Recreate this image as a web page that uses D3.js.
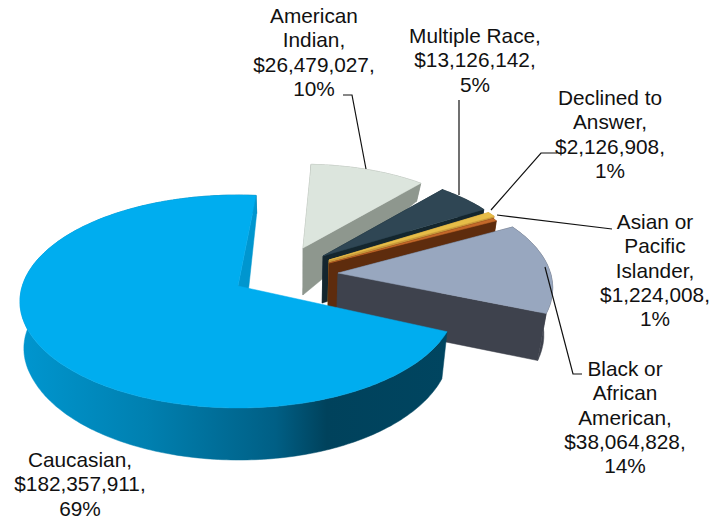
<!DOCTYPE html>
<html><head><meta charset="utf-8">
<script src="https://cdn.jsdelivr.net/npm/d3@7"></script>
<style>html,body{margin:0;padding:0;background:#fff}svg{display:block}text{font-family:"Liberation Sans",Arial,sans-serif;font-size:20.8px;fill:#111}</style>
</head><body><svg id="c" width="725" height="521"></svg>
<script>
// --- data (clockwise from the top) ---
const categories = ["American Indian","Multiple Race","Declined to Answer","Asian or Pacific Islander","Black or African American","Caucasian"];
const amounts = [26479027,13126142,2126908,1224008,38064828,182357911];
const percents = ["10%","5%","1%","1%","14%","69%"];
const labelLines = [["American","Indian,"],["Multiple Race,"],["Declined to","Answer,"],["Asian or","Pacific","Islander,"],["Black or","African","American,"],["Caucasian,"]];
// --- styles / layout ---
const topColors = ["#dce5dd","#2f4654","#e6bd48","#c4692a","#98a7bf","#00adef"];
const wallColors = ["#8e978e","#14262e","#c9983a","#5e2c0d","#3e424d","#0096cf"];
const explodeX = [13,33,39,39,48,-52];
const explodeY = [-24,-16,-12,-9,1,14];
const radiusScale = [.91,.93,.93,.93,.985,1];
const startTweak = [0,2.1,1.5,1,0,.9];
const endTweak = [2.4,2.2,1.5,1,-1.5,2.8];
const labelAnchor = [[314,23],[475,43],[610,105],[655,229],[625,376],[80,467]];
const lineStep = 24.3;
const leaders = [
 [[343,95],[352,95],[366,169]],
 [[459,100],[459,195]],
 [[557,153],[541,153],[491,210]],
 [[497,215],[612,229]],
 [[582,374],[573,374],[545,267]]
];
const center = [290,272], A = 215.7, B = 104.2, K = .1455, D = 47, VPX = 300;
const vpf = x => x<VPX ? .014 : .035;

const svg = d3.select("#c");
const defs = svg.append("defs");
const grad = defs.append("linearGradient").attr("id","g").attr("gradientUnits","userSpaceOnUse")
  .attr("x1",20).attr("x2",446).attr("y1",0).attr("y2",0);
[[0,"#0096cf"],[.3,"#0080b0"],[.6,"#005f85"],[.72,"#00425c"],[1,"#004560"]].forEach(s=>grad.append("stop").attr("offset",s[0]).attr("stop-color",s[1]));

const start = 2.7*Math.PI/180, rad = Math.PI/180;
const arcs = d3.pie().value(d=>d).sort(null).startAngle(start).endAngle(start+2*Math.PI)(amounts);
const xs = d3.scaleLinear().domain([-1,1]).range([-A,A]);
const ys = d3.scaleLinear().domain([-1,1]).range([-B,B]);
function project(apex,r,theta){
  const u=r*Math.sin(theta), v=-r*Math.cos(theta), s=1/(1-K*v);
  return [apex[0]+xs(u)*s, apex[1]+ys(v)*s];
}
function drop(p){
  // the far rim shows a much shorter wall than the near rim
  const d = p[1]<205 ? 18 : D + Math.max(0,p[1]-330)*.065;
  return [p[0]+(VPX-p[0])*vpf(p[0]), p[1]+d];
}
const path = pts => "M"+pts.map(p=>p[0].toFixed(1)+","+p[1].toFixed(1)).join("L")+"Z";

arcs.forEach((a,i)=>{
  const a0=a.startAngle+startTweak[i]*rad, a1=a.endAngle+endTweak[i]*rad;
  const apex=[center[0]+explodeX[i], center[1]+explodeY[i]];
  const r=radiusScale[i];
  const n=Math.max(4,Math.ceil((a1-a0)*60));
  const rim=d3.range(n+1).map(j=>project(apex,r,a0+(a1-a0)*j/n));
  const g=svg.append("g");
  const apexDrop=drop(apex);
  if(i===5) apexDrop[0]+=5;
  const wall=i===5?"url(#g)":wallColors[i];
  g.append("path").attr("d",path(rim.concat(rim.map(drop).reverse())))
    .attr("fill",wall).attr("stroke",wall).attr("stroke-width",.5);
  [rim[0],rim[n]].forEach((p,e)=>{
    if(i===5 && e===0) return; // the Caucasian start wall faces away from the viewer
    g.append("path").attr("d",path([p,drop(p),apexDrop,apex])).attr("fill",wallColors[i]).attr("stroke",wallColors[i]).attr("stroke-width",.5);
  });
  g.append("path").attr("d",path([apex].concat(rim))).attr("fill",topColors[i]).attr("stroke",topColors[i]).attr("stroke-width",.5);
});

leaders.forEach(l=>svg.append("path").attr("d",d3.line()(l)).attr("fill","none").attr("stroke","#111").attr("stroke-width",1.2));

const fmt=d3.format("$,");
categories.forEach((c,i)=>{
  const lines=labelLines[i].concat([fmt(amounts[i])+",",percents[i]]);
  const t=svg.append("text").attr("text-anchor","middle");
  lines.forEach((s,j)=>t.append("tspan").attr("x",labelAnchor[i][0]).attr("y",labelAnchor[i][1]+j*lineStep).text(s));
});
</script></body></html>
